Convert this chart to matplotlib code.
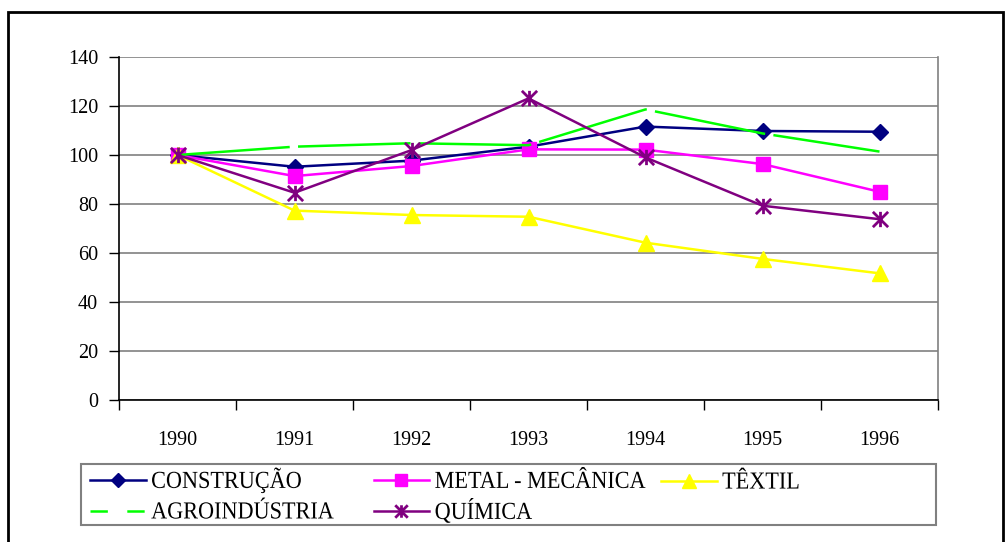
import matplotlib
matplotlib.use("Agg")
import matplotlib.pyplot as plt
import numpy as np
from matplotlib.lines import Line2D
from matplotlib.patches import Rectangle
from matplotlib.path import Path
from matplotlib.transforms import Affine2D
from matplotlib.patheffects import AbstractPathEffect
from matplotlib.font_manager import FontProperties

plt.rcParams['font.family'] = ['Liberation Serif', 'DejaVu Serif']
plt.rcParams['lines.scale_dashes'] = False

# data (indice 1990 = 100)
years = ['1990', '1991', '1992', '1993', '1994', '1995', '1996']
construcao = [100, 95.2, 97.7, 103.4, 111.6, 109.8, 109.5]
metal = [100, 91.4, 95.5, 102.3, 102.2, 96.3, 85.0]
textil = [100, 77.3, 75.5, 74.8, 64.2, 57.6, 51.7]
agro = [100, 103.4, 104.8, 104.0, 118.6, 108.8, 101.4]
quimica = [100, 84.6, 102.0, 123.1, 99.0, 79.3, 73.8]
yticks = [0, 20, 40, 60, 80, 100, 120, 140]


class StretchY(AbstractPathEffect):
    """draw text taller (and a touch heavier) than the plain font"""
    def __init__(self, sy, stroke=0.0):
        super().__init__()
        self.sy = sy
        self.stroke = stroke

    def draw_path(self, renderer, gc, tpath, affine, rgbFace=None):
        tr = Affine2D().scale(1, self.sy) + affine
        gc0 = renderer.new_gc()
        gc0.copy_properties(gc)
        gc0.set_linewidth(self.stroke)
        gc0.set_foreground(rgbFace)
        renderer.draw_path(gc0, tpath, tr, rgbFace)
        gc0.restore()


# asterisk marker: vertical bar + X
star = Path([(0, -1), (0, 1), (-1, -1), (1, 1), (-1, 1), (1, -1)],
            [Path.MOVETO, Path.LINETO, Path.MOVETO, Path.LINETO, Path.MOVETO, Path.LINETO])

W, H = 1005, 542
fig = plt.figure(figsize=(W / 100, H / 100), dpi=100)
ax = fig.add_axes([119 / W, 1 - 400 / H, (938 - 119) / W, (400 - 57) / H])

x = np.arange(len(years))
ax.plot(x, construcao, color='#000080', lw=1.8, marker='D', ms=8, zorder=3)
ax.plot(x, metal, color='#FF00FF', lw=1.8, marker='s', ms=10, zorder=3)
ax.plot(x, textil, color='#FFFF00', lw=1.8, marker='^', ms=12, zorder=3)
ax.plot(x, agro, color='#00FF00', lw=1.8, dashes=(81, 6), zorder=3)
ax.plot(x, quimica, color='#800080', lw=1.8, marker=star, ms=11, mew=2, zorder=3)

ax.set_xlim(-0.5, 6.5)
ax.set_ylim(0, 140)

# axes styling
ax.yaxis.grid(True, color='#808080', lw=1.2)
ax.set_axisbelow(True)
ax.spines['top'].set_visible(False)
ax.spines['right'].set_color('#808080')
ax.spines['right'].set_linewidth(1.2)
for s in ['left', 'bottom']:
    ax.spines[s].set_linewidth(1.2)
    ax.spines[s].set_color('black')

xl = ax.set_xticks(x, labels=years)
ax.set_xticks(np.arange(-0.5, 7, 1), minor=True)
yl = ax.set_yticks(yticks, labels=[str(v) for v in yticks])
ax.tick_params(axis='x', which='major', length=0, pad=22, labelsize=14.5)
ax.tick_params(axis='x', which='minor', length=7, width=1, direction='out')
ax.tick_params(axis='y', length=7, width=1, direction='out', pad=8, labelsize=14.5)
for lbl in list(xl) + list(yl):
    lbl.set_path_effects([StretchY(1.28, 0.4)])

# legend (two pieces so the third column sits where it does in the original)
h_con = Line2D([], [], color='#000080', lw=1.8, marker='D', ms=7)
h_agr = Line2D([], [], color='#00FF00', lw=1.8, dashes=(12.5, 14))
h_met = Line2D([], [], color='#FF00FF', lw=1.8, marker='s', ms=8)
h_qui = Line2D([], [], color='#800080', lw=1.8, marker=star, ms=9, mew=2)
h_tex = Line2D([], [], color='#FFFF00', lw=1.8, marker='^', ms=10)

leg_kw = dict(loc='upper left', frameon=False,
              prop=FontProperties(family='Liberation Serif', size=16),
              handlelength=2.5, handletextpad=0.25, labelspacing=0.45,
              borderpad=0, borderaxespad=0)
leg1 = fig.legend([h_con, h_agr, h_met, h_qui],
                  ['CONSTRUÇÃO', 'AGROINDÚSTRIA', 'METAL - MECÂNICA', 'QUÍMICA'],
                  ncol=2, columnspacing=1.78, bbox_to_anchor=(90 / W, 1 - 470 / H), **leg_kw)
leg2 = fig.legend([h_tex], ['TÊXTIL'], ncol=1, bbox_to_anchor=(661 / W, 1 - 473 / H), **leg_kw)
for lg in (leg1, leg2):
    for t in lg.get_texts():
        t.set_path_effects([StretchY(1.1)])

# legend box and outer chart frame
fig.add_artist(Rectangle((81 / W, 1 - 525 / H), (936 - 81) / W, 61 / H,
                         transform=fig.transFigure, fill=False, ec='#808080', lw=1.5))
fig.add_artist(Rectangle((8 / W, -0.02), (1003 - 8) / W, 1.02 - 12 / H,
                         transform=fig.transFigure, fill=False, ec='black', lw=2))

fig.savefig('out.png', dpi=100)
